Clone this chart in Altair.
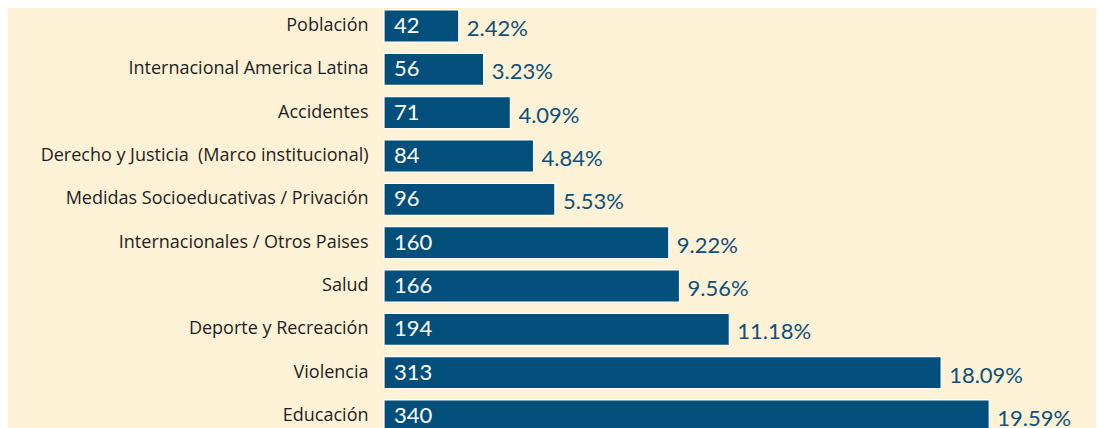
import altair as alt
import pandas as pd

categories = [
    "Población",
    "Internacional America Latina",
    "Accidentes",
    "Derecho y Justicia \u00a0(Marco institucional)",
    "Medidas Socioeducativas / Privación",
    "Internacionales / Otros Paises",
    "Salud",
    "Deporte y Recreación",
    "Violencia",
    "Educación",
]
counts = [42, 56, 71, 84, 96, 160, 166, 194, 313, 340]
percents = [2.42, 3.23, 4.09, 4.84, 5.53, 9.22, 9.56, 11.18, 18.09, 19.59]

df = pd.DataFrame({
    "cat": categories,
    "count": counts,
    "pct": [f"{p:.2f}%" for p in percents],
})

BG = "#FDF1D6"
BAR = "#034F7B"
TXT = "#0E507D"

y = alt.Y("cat:N", sort=None, title=None,
          scale=alt.Scale(paddingInner=0.26, paddingOuter=0.046),
          axis=alt.Axis(domain=False, ticks=False, labelPadding=16,
                        labelFont="Open Sans", labelFontSize=18, labelColor="#1e1e1e",
                        labelFontWeight="normal", labelLimit=400))
x = alt.X("count:Q", title=None, axis=None,
          scale=alt.Scale(domain=[0, 400], nice=False, zero=True))

base = alt.Chart(df)

bars = base.mark_bar(color=BAR, stroke="white", strokeWidth=1.2).encode(x=x, y=y)

count_text = base.mark_text(align="left", baseline="middle", dx=10,
                            font="Lato", fontSize=22, color="white",
                            fontWeight="normal").encode(
    x=alt.value(0),
    y=y,
    text=alt.Text("count:Q"),
)

pct_text = base.mark_text(align="left", baseline="middle", dx=8, dy=3,
                          font="Lato", fontSize=22, color=TXT,
                          fontWeight="normal").encode(
    x=x,
    y=y,
    text=alt.Text("pct:N"),
)

chart = alt.layer(bars, count_text, pct_text).properties(
    width=712,
    height=426,
    background=BG,
    autosize=alt.AutoSizeParams(type="none"),
    padding={"left": 376, "top": 0, "right": 0, "bottom": 0},
).configure_view(stroke=None)

chart.save("out.html", embed_options={"renderer": "svg", "actions": False})
